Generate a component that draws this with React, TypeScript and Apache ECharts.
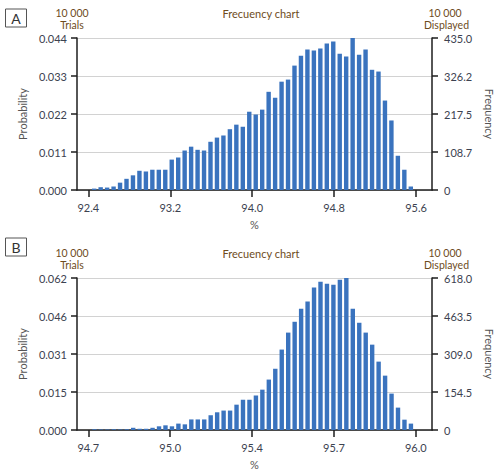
import React, { useEffect, useRef } from "react";
import * as echarts from "echarts";

const trials = 10000;

// ---- Chart A ----
const binStartA = 92.457;
const binWidthA = 0.0631;
const countsA = [
  4, 8, 7, 10, 21, 32, 42, 55, 53, 58,
  58, 58, 87, 93, 113, 124, 115, 113, 138, 150,
  156, 174, 187, 181, 224, 216, 230, 281, 264, 310,
  316, 356, 384, 402, 399, 405, 419, 425, 390, 382,
  435, 387, 402, 344, 339, 256, 199, 98, 58, 10,
];
const xRangeA = [92.289, 95.756];
const xTicksA = [92.4, 93.2, 94.0, 94.8, 95.6];
const freqMaxA = 435;
const probLabelsA = ["0.000", "0.011", "0.022", "0.033", "0.044"];
const freqLabelsA = ["0", "108.7", "217.5", "326.2", "435.0"];

// ---- Chart B ----
const binStartB = 94.725;
const binWidthB = 0.02629;
const countsB = [
  3, 2, 2, 3, 2, 3, 9, 5, 5, 9,
  15, 19, 15, 26, 23, 43, 43, 43, 60, 72,
  79, 79, 103, 123, 123, 140, 164, 205, 249, 327,
  396, 440, 493, 522, 579, 603, 595, 591, 611, 618,
  493, 436, 396, 347, 278, 221, 148, 91, 42, 26,
];
const xRangeB = [94.654, 96.099];
const xTicksB = [94.7, 95.0333, 95.3667, 95.7, 96.0333];
const freqMaxB = 618;
const probLabelsB = ["0.000", "0.015", "0.031", "0.046", "0.062"];
const freqLabelsB = ["0", "154.5", "309.0", "463.5", "618.0"];

const panelLetters = ["A", "B"];
const headerTitle = "Frecuency chart";
const trialsLabel = "Trials";
const displayedLabel = "Displayed";
const trialsText = "10 000";

const FONT = "Lato, 'Liberation Sans', sans-serif";
const AXIS_COLOR = "#1e1e1e";
const LABEL_COLOR = "#3c4250";
const HEAD_COLOR = "#6e4c1c";
const BAR_COLOR = "#3a73be";

function buildPanel(
  idx: number,
  top: number,
  binStart: number,
  binWidth: number,
  counts: number[],
  xRange: number[],
  xTicks: number[],
  freqMax: number,
  probLabels: string[],
  freqLabels: string[]
) {
  const grid = { left: 77, top, width: 365, height: 152 };
  const xAxis = {
    type: "value",
    gridIndex: idx,
    min: xRange[0],
    max: xRange[1],
    axisLine: { show: true, onZero: false, lineStyle: { color: AXIS_COLOR, width: 1.5 } },
    axisTick: { show: true, customValues: xTicks, length: 7, lineStyle: { color: AXIS_COLOR, width: 1.5 } },
    axisLabel: {
      customValues: xTicks,
      formatter: (v: number) => v.toFixed(1),
      color: LABEL_COLOR,
      fontFamily: FONT,
      fontSize: 11,
      margin: 12,
    },
    splitLine: { show: false },
    name: "%",
    nameLocation: "middle",
    nameGap: 29,
    nameTextStyle: { color: "#555", fontFamily: FONT, fontSize: 11 },
  };
  const probMax = freqMax / trials;
  const yLeft = {
    type: "value",
    gridIndex: idx,
    position: "left",
    min: 0,
    max: probMax,
    interval: probMax / 4,
    axisLine: { show: true, onZero: false, lineStyle: { color: AXIS_COLOR, width: 1.5 } },
    axisTick: { show: true, length: 6, lineStyle: { color: AXIS_COLOR, width: 1.5 } },
    axisLabel: {
      formatter: (_v: number, i: number) => probLabels[i],
      color: LABEL_COLOR,
      fontFamily: FONT,
      fontSize: 11,
      margin: 10,
    },
    splitLine: { show: false },
    name: "Probability",
    nameLocation: "middle",
    nameRotate: 90,
    nameGap: 34,
    nameTextStyle: { color: "#555", fontFamily: FONT, fontSize: 11 },
  };
  const yRight = {
    type: "value",
    gridIndex: idx,
    position: "right",
    min: 0,
    max: freqMax,
    interval: freqMax / 4,
    axisLine: { show: true, onZero: false, lineStyle: { color: AXIS_COLOR, width: 1.5 } },
    axisTick: { show: true, length: 6, lineStyle: { color: AXIS_COLOR, width: 1.5 } },
    axisLabel: {
      formatter: (_v: number, i: number) => freqLabels[i],
      color: LABEL_COLOR,
      fontFamily: FONT,
      fontSize: 11,
      margin: 12,
    },
    splitLine: { show: true, lineStyle: { color: "#d2d2d2", width: 1 } },
    name: "Frequency",
    nameLocation: "middle",
    nameRotate: -90,
    nameGap: 52,
    nameTextStyle: { color: "#555", fontFamily: FONT, fontSize: 11 },
  };
  const series = {
    type: "bar",
    xAxisIndex: idx,
    yAxisIndex: idx * 2 + 1,
    barWidth: 4.4,
    itemStyle: { color: BAR_COLOR },
    data: counts.map((c, i) => [binStart + i * binWidth, c]),
  };
  return { grid, xAxis, yLeft, yRight, series };
}

function headerGraphics(offset: number, boxTop: number, letter: string) {
  const txt = (text: string, x: number, y: number, color: string, size = 11) => ({
    type: "text",
    x,
    y,
    style: {
      text,
      fill: color,
      fontFamily: FONT,
      fontSize: size,
      lineHeight: size,
      align: "center",
      verticalAlign: "middle",
      textAlign: "center",
      textVerticalAlign: "middle",
    },
  });
  return [
    {
      type: "rect",
      shape: { x: 5.5, y: boxTop + 0.5, width: 21, height: 18 },
      style: { fill: "#fff", stroke: "#555", lineWidth: 1 },
    },
    txt(letter, 16, boxTop + 10, "#333", 14),
    txt(trialsText, 72, offset + 12.8, HEAD_COLOR, 10.5),
    txt(trialsLabel, 72, offset + 24.5, HEAD_COLOR, 10.5),
    txt(headerTitle, 261, offset + 13, HEAD_COLOR, 11),
    txt(trialsText, 445, offset + 12.8, HEAD_COLOR, 10.5),
    txt(displayedLabel, 446.5, offset + 24.5, HEAD_COLOR, 10.5),
  ];
}

export default function App() {
  const ref = useRef<HTMLDivElement>(null);
  useEffect(() => {
    if (!ref.current) return;
    const chart = echarts.init(ref.current, undefined, { renderer: "svg" });
    const a = buildPanel(0, 38, binStartA, binWidthA, countsA, xRangeA, xTicksA, freqMaxA, probLabelsA, freqLabelsA);
    const b = buildPanel(1, 278, binStartB, binWidthB, countsB, xRangeB, xTicksB, freqMaxB, probLabelsB, freqLabelsB);
    chart.setOption({
      animation: false,
      backgroundColor: "#ffffff",
      textStyle: { fontFamily: FONT },
      grid: [a.grid, b.grid],
      xAxis: [a.xAxis, b.xAxis],
      yAxis: [a.yLeft, a.yRight, b.yLeft, b.yRight],
      series: [a.series, b.series],
      graphic: [
        ...headerGraphics(0, 8.5, panelLetters[0]),
        ...headerGraphics(240, 237.5, panelLetters[1]),
      ],
    });
    return () => chart.dispose();
  }, []);
  return (
    <div
      ref={ref}
      style={{ position: "fixed", left: 0, top: 0, width: 503, height: 474 }}
    />
  );
}
